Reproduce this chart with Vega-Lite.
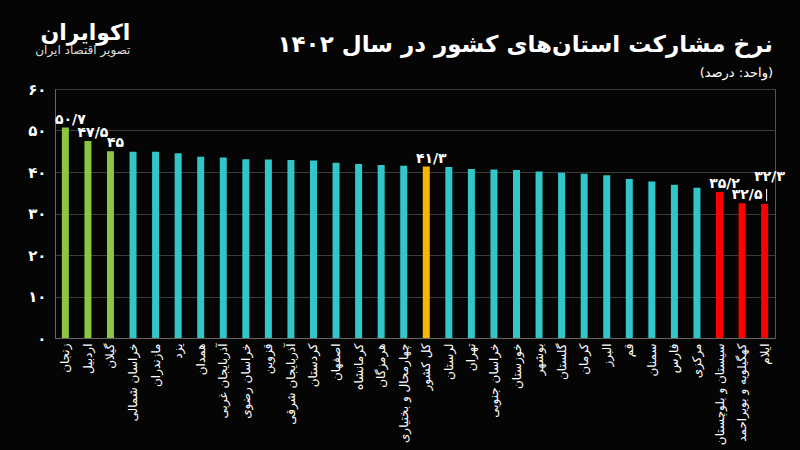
{
  "$schema": "https://vega.github.io/schema/vega-lite/v6.json",
  "autosize": {"type": "none"},
  "width": 720,
  "height": 249,
  "padding": {"left": 55, "top": 89, "right": 25, "bottom": 112},
  "background": "#050505",
  "config": {
    "font": "DejaVu Sans",
    "view": {"stroke": "#555555", "strokeWidth": 1},
    "axis": {"labelColor": "#ffffff", "titleColor": "#ffffff", "labelFont": "DejaVu Sans"}
  },
  "title": {
    "text": "نرخ مشارکت استان‌های کشور در سال ۱۴۰۲",
    "subtitle": "(واحد: درصد)",
    "anchor": "end",
    "frame": "group",
    "color": "#ffffff",
    "subtitleColor": "#ffffff",
    "fontSize": 23,
    "fontWeight": "bold",
    "subtitleFontSize": 13,
    "subtitlePadding": 10,
    "offset": 14,
    "dy": 72,
    "dx": -2
  },
  "data": {
    "values": [
      {"province": "زنجان", "value": 50.7, "group": "top", "label": "۵۰/۷"},
      {"province": "اردبیل", "value": 47.5, "group": "top", "label": "۴۷/۵"},
      {"province": "گیلان", "value": 45.0, "group": "top", "label": "۴۵"},
      {"province": "خراسان شمالی", "value": 44.9, "group": "mid", "label": ""},
      {"province": "مازندران", "value": 44.9, "group": "mid", "label": ""},
      {"province": "یزد", "value": 44.5, "group": "mid", "label": ""},
      {"province": "همدان", "value": 43.7, "group": "mid", "label": ""},
      {"province": "آذربایجان غربی", "value": 43.5, "group": "mid", "label": ""},
      {"province": "خراسان رضوی", "value": 43.1, "group": "mid", "label": ""},
      {"province": "قزوین", "value": 43.0, "group": "mid", "label": ""},
      {"province": "آذربایجان شرقی", "value": 42.9, "group": "mid", "label": ""},
      {"province": "کردستان", "value": 42.8, "group": "mid", "label": ""},
      {"province": "اصفهان", "value": 42.2, "group": "mid", "label": ""},
      {"province": "کرمانشاه", "value": 41.9, "group": "mid", "label": ""},
      {"province": "هرمزگان", "value": 41.7, "group": "mid", "label": ""},
      {"province": "چهارمحال و بختیاری", "value": 41.5, "group": "mid", "label": ""},
      {"province": "کل کشور", "value": 41.3, "group": "total", "label": "۴۱/۳"},
      {"province": "لرستان", "value": 41.2, "group": "mid", "label": ""},
      {"province": "تهران", "value": 40.7, "group": "mid", "label": ""},
      {"province": "خراسان جنوبی", "value": 40.6, "group": "mid", "label": ""},
      {"province": "خوزستان", "value": 40.5, "group": "mid", "label": ""},
      {"province": "بوشهر", "value": 40.1, "group": "mid", "label": ""},
      {"province": "گلستان", "value": 39.8, "group": "mid", "label": ""},
      {"province": "کرمان", "value": 39.6, "group": "mid", "label": ""},
      {"province": "البرز", "value": 39.2, "group": "mid", "label": ""},
      {"province": "قم", "value": 38.3, "group": "mid", "label": ""},
      {"province": "سمنان", "value": 37.7, "group": "mid", "label": ""},
      {"province": "فارس", "value": 36.9, "group": "mid", "label": ""},
      {"province": "مرکزی", "value": 36.2, "group": "mid", "label": ""},
      {"province": "سیستان و بلوچستان", "value": 35.2, "group": "low", "label": "۳۵/۲"},
      {"province": "کهگیلویه و بویراحمد", "value": 32.5, "group": "low", "label": "۳۲/۵"},
      {"province": "ایلام", "value": 32.3, "group": "low", "label": "۳۲/۳"}
    ]
  },
  "encoding": {
    "x": {
      "field": "province",
      "type": "nominal",
      "sort": null,
      "scale": {"paddingInner": 0.68, "paddingOuter": 0.3},
      "axis": {
        "title": null,
        "labelAngle": -90,
        "labelFontSize": 12,
        "labelPadding": 5,
        "ticks": false,
        "domainColor": "#666666",
        "labelLimit": 120
      }
    },
    "y": {
      "field": "value",
      "type": "quantitative",
      "scale": {"domain": [0, 60]},
      "axis": {
        "title": null,
        "values": [0, 10, 20, 30, 40, 50, 60],
        "labelExpr": "['۰','۱۰','۲۰','۳۰','۴۰','۵۰','۶۰'][datum.value / 10]",
        "labelFontSize": 15,
        "labelFontWeight": "bold",
        "labelPadding": 9,
        "ticks": false,
        "domainColor": "#666666",
        "gridColor": "#3c3c3c",
        "gridWidth": 1
      }
    }
  },
  "layer": [
    {
      "mark": {"type": "bar", "size": 7},
      "encoding": {
        "color": {
          "field": "group",
          "type": "nominal",
          "scale": {"domain": ["top", "mid", "total", "low"], "range": ["#8cc63f", "#33c6c8", "#f6b800", "#ff0000"]},
          "legend": null
        }
      }
    },
    {
      "transform": [{"filter": "datum.label != '' && datum.province != 'ایلام'"}],
      "mark": {"type": "text", "color": "#ffffff", "fontSize": 14, "fontWeight": "bold", "baseline": "bottom", "dy": -1, "dx": 5},
      "encoding": {"text": {"field": "label"}}
    },
    {
      "transform": [{"filter": "datum.province == 'ایلام'"}],
      "mark": {"type": "text", "color": "#ffffff", "fontSize": 14, "fontWeight": "bold", "baseline": "bottom", "dy": -20, "dx": 5},
      "encoding": {"text": {"field": "label"}}
    },
    {
      "transform": [{"filter": "datum.province == 'ایلام'"}],
      "mark": {"type": "rule", "color": "#ffffff", "strokeWidth": 1, "yOffset": -3, "y2Offset": -15, "xOffset": 2},
      "encoding": {"y2": {"field": "value"}}
    },
    {
      "data": {"values": [{"brand": "اکوایران", "tag": "تصویر اقتصاد ایران", "pos": "زنجان", "h": 73.6, "h2": 69.3}]},
      "mark": {"type": "text", "color": "#ffffff", "fontSize": 22, "fontWeight": "bold", "align": "right", "baseline": "middle", "dx": 65},
      "encoding": {
        "x": {"field": "pos", "type": "nominal"},
        "y": {"field": "h", "type": "quantitative"},
        "text": {"field": "brand"}
      }
    },
    {
      "data": {"values": [{"brand": "اکوایران", "tag": "تصویر اقتصاد ایران", "pos": "زنجان", "h": 73.6, "h2": 69.3}]},
      "mark": {"type": "text", "color": "#dddddd", "fontSize": 12, "align": "right", "baseline": "middle", "dx": 65},
      "encoding": {
        "x": {"field": "pos", "type": "nominal"},
        "y": {"field": "h2", "type": "quantitative"},
        "text": {"field": "tag"}
      }
    }
  ]
}
